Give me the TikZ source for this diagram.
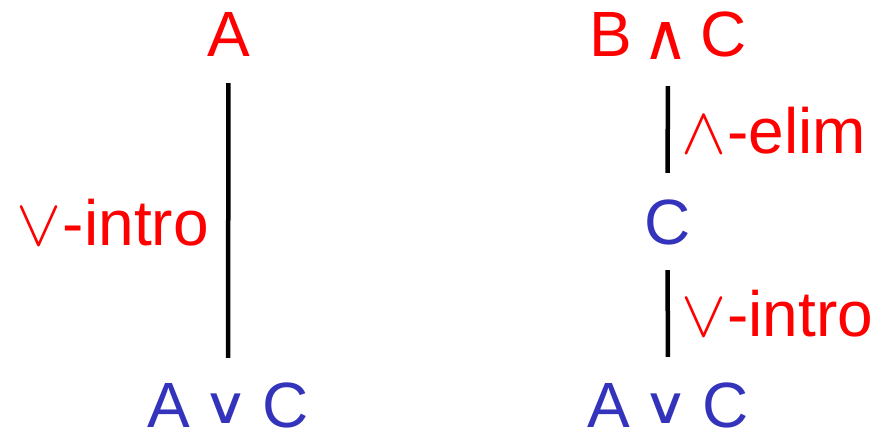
\documentclass[tikz,border=0pt]{standalone}
\usepackage{fontspec}
\setmainfont{Liberation Sans}
\newfontfamily\symfont{DejaVu Sans}
\definecolor{rulered}{RGB}{255,0,0}
\definecolor{formblue}{RGB}{51,51,187}
% connectives inside the formulas
\newcommand{\fmor}{\hspace{13pt}\raisebox{4pt}{\scalebox{1}[0.8]{\symfont ∨}}\hspace{13pt}}
\newcommand{\fmand}{\hspace{11pt}\raisebox{-3pt}{\resizebox*{!}{37pt}{\symfont ∧}}\hspace{11pt}}
% thin connective symbols used in the rule names
\newcommand{\thinor}{\resizebox{45pt}{37pt}{\normalsize$\vee$}\hspace{1pt}}
\newcommand{\thinand}{\resizebox{45pt}{37pt}{\normalsize$\wedge$}\hspace{1pt}}
\begin{document}
\begin{tikzpicture}[x=1pt,y=1pt,
  formula/.style={inner sep=0pt, anchor=base, text height=46pt, text depth=0pt,
    font=\fontsize{64}{70}\selectfont},
  rulelabel/.style={inner sep=0pt, text=rulered, font=\fontsize{64}{70}\selectfont},
  inference/.style={line width=4.5pt, black}]
\useasboundingbox (0,0) rectangle (879,-433);
% left derivation: A, then or-introduction
\node[formula, text=rulered] (a1) at (228.5,-57) {A};
\node[formula, text=formblue] (c1) at (228,-427) {A\fmor{}C};
\draw[inference, shorten <=26pt, shorten >=23pt] (a1.south) -- (c1.north);
\node[rulelabel, anchor=base east] (l1) at (209,-246) {\thinor-intro};
% right derivation: and-elimination, then or-introduction
\node[formula, text=rulered] (b2) at (668,-57) {B\fmand{}C};
\node[formula, text=formblue] (m2) at (667.5,-244) {C};
\node[formula, text=formblue] (c2) at (668,-427) {A\fmor{}C};
\draw[inference, shorten <=29pt, shorten >=25pt] (b2.south) -- (m2.north);
\draw[inference, shorten <=26pt, shorten >=24pt] (m2.south) -- (c2.north);
\node[rulelabel, anchor=base west] (l2) at (681,-154) {\thinand-elim};
\node[rulelabel, anchor=base west] (l3) at (681,-336) {\thinor-intro};
\end{tikzpicture}
\end{document}
